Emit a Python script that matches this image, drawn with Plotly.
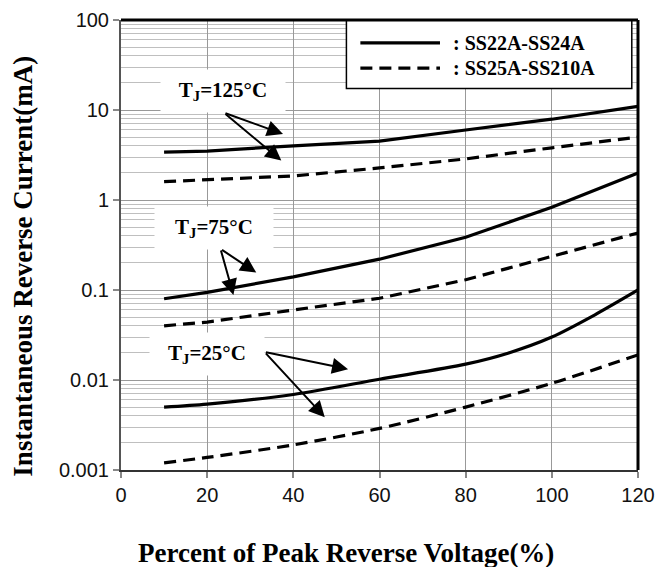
import math
import plotly.graph_objects as go

# ---- data ----
x_pct = [10, 20, 40, 60, 80, 100, 120]
x_pct_25 = [10, 20, 40, 60, 80, 90, 100, 110, 120]

ss22_125 = [3.4, 3.5, 4.0, 4.5, 6.0, 7.9, 11.0]
ss25_125 = [1.6, 1.68, 1.85, 2.27, 2.86, 3.8, 5.0]
ss22_75 = [0.08, 0.094, 0.14, 0.22, 0.385, 0.83, 2.0]
ss25_75 = [0.04, 0.044, 0.06, 0.081, 0.13, 0.234, 0.43]
ss22_25 = [0.005, 0.0054, 0.0069, 0.0102, 0.015, 0.02, 0.03, 0.053, 0.1]
ss25_25 = [0.0012, 0.00138, 0.0019, 0.0029, 0.005, 0.0092, 0.019]

series_names = [": SS22A-SS24A", ": SS25A-SS210A"]
x_ticks = [0, 20, 40, 60, 80, 100, 120]
y_tickvals = [0.001, 0.01, 0.1, 1, 10, 100]
y_ticktext = ["0.001", "0.01", "0.1", "1", "10", "100"]
x_title = "Percent of Peak Reverse Voltage(%)"
y_title = "Instantaneous Reverse Current(mA)"

temp_labels = ["T<sub>J</sub>=125°C", "T<sub>J</sub>=75°C", "T<sub>J</sub>=25°C"]
# label centre (x, current) and arrow tail / heads (x, current)
label_pos = [(23.7, 16.3), (21.7, 0.494), (20.0, 0.0195)]
arrow_tail = [(23.9, 9.33), (23.1, 0.286), (33.3, 0.0205)]
arrow_heads = [
    [(37.6, 5.41), (37.2, 2.74)],
    [(31.4, 0.156), (26.1, 0.088)],
    [(52.7, 0.0132), (47.3, 0.00386)],
]

SERIF = "Liberation Serif, Times New Roman, serif"
SANS = "Liberation Sans, Arial, sans-serif"
DASH = "12px,7px"

fig = go.Figure()

def add(xs, ys, dashed, name, shape="linear"):
    fig.add_trace(go.Scatter(
        x=xs, y=ys, mode="lines", name=name, showlegend=False,
        line=dict(color="black", width=3.2, dash=DASH if dashed else "solid",
                  shape=shape, smoothing=0.8),
    ))

add(x_pct, ss22_125, False, series_names[0])
add(x_pct, ss25_125, True, series_names[1])
add(x_pct, ss22_75, False, series_names[0])
add(x_pct, ss25_75, True, series_names[1])
add(x_pct_25, ss22_25, False, series_names[0], shape="spline")
add(x_pct, ss25_25, True, series_names[1], shape="spline")

annotations = []
box_w = [104, 98, 94]
for i, lab in enumerate(temp_labels):
    lx, ly = label_pos[i]
    annotations.append(dict(
        x=lx, y=math.log10(ly), xref="x", yref="y", text="<b>" + lab + "</b>",
        showarrow=False, bgcolor="white", borderpad=10, width=box_w[i], height=22,
        xanchor="center", yanchor="middle",
        font=dict(family=SERIF, size=21, color="black"),
    ))
    tx, ty = arrow_tail[i]
    for hx, hy in arrow_heads[i]:
        annotations.append(dict(
            x=hx, y=math.log10(hy), xref="x", yref="y",
            ax=tx, ay=math.log10(ty), axref="x", ayref="y",
            text="", showarrow=True, arrowhead=2, arrowsize=1.6,
            arrowwidth=2, arrowcolor="black", standoff=0, startstandoff=0,
        ))

# legend (drawn as a box with line samples and text)
leg_y = [0.949, 0.893]
for j, nm in enumerate(series_names):
    annotations.append(dict(
        x=0.639, y=leg_y[j], xref="paper", yref="paper", text="<b>" + nm + "</b>",
        showarrow=False, xanchor="left", yanchor="middle",
        font=dict(family=SERIF, size=20, color="black"),
    ))

# axis titles
annotations.append(dict(
    x=0.435, y=1 - (553 - 20) / 450, xref="paper", yref="paper",
    text="<b>" + x_title + "</b>", xanchor="center", yanchor="middle",
    showarrow=False, font=dict(family=SERIF, size=27, color="black"),
))
annotations.append(dict(
    x=(23 - 121.3) / 516.7, y=1 - (266 - 20) / 450, xref="paper", yref="paper",
    text="<b>" + y_title + "</b>", textangle=-90, xanchor="center", yanchor="middle",
    showarrow=False, font=dict(family=SERIF, size=27, color="black"),
))

shapes = [
    dict(type="rect", xref="paper", yref="paper", x0=0.436, x1=0.988, y0=0.848, y1=1.0,
         fillcolor="white", line=dict(color="black", width=1.5), layer="above"),
    dict(type="line", xref="paper", yref="paper", x0=0.463, x1=0.617, y0=leg_y[0], y1=leg_y[0],
         line=dict(color="black", width=3.2), layer="above"),
    dict(type="line", xref="paper", yref="paper", x0=0.463, x1=0.617, y0=leg_y[1], y1=leg_y[1],
         line=dict(color="black", width=3.2, dash=DASH), layer="above"),
    # frame top and right
    dict(type="line", xref="paper", yref="paper", x0=0, x1=1, y0=1, y1=1,
         line=dict(color="black", width=3), layer="above"),
    dict(type="line", xref="paper", yref="paper", x0=1, x1=1, y0=0, y1=1,
         line=dict(color="black", width=3), layer="above"),
]

fig.update_layout(
    width=659, height=567,
    margin=dict(l=121, r=21, t=20, b=97, autoexpand=False),
    paper_bgcolor="white", plot_bgcolor="white",
    annotations=annotations, shapes=shapes,
    xaxis=dict(
        range=[0, 120], tickvals=x_ticks, showgrid=True, gridcolor="#999999", gridwidth=1.3,
        showline=True, linecolor="#333333", linewidth=2, automargin=False,
        ticks="outside", ticklen=6, tickcolor="#888888", tickwidth=1.5,
        tickfont=dict(family=SANS, size=20, color="#111111"),
        zeroline=False,
    ),
    yaxis=dict(
        type="log", range=[-3, 2], tickvals=y_tickvals, ticktext=y_ticktext,
        showgrid=True, gridcolor="#999999", gridwidth=1.3, automargin=False,
        minor=dict(dtick="D1", showgrid=True, gridcolor="#bfbfbf", gridwidth=1, ticks=""),
        showline=True, linecolor="#555555", linewidth=2,
        ticks="outside", ticklen=6, tickcolor="#888888", tickwidth=1.5,
        tickfont=dict(family=SANS, size=20, color="#111111"),
        zeroline=False,
    ),
)

fig.write_html("out.html", config={"displayModeBar": False},
               post_script="document.body.style.margin='0';")
